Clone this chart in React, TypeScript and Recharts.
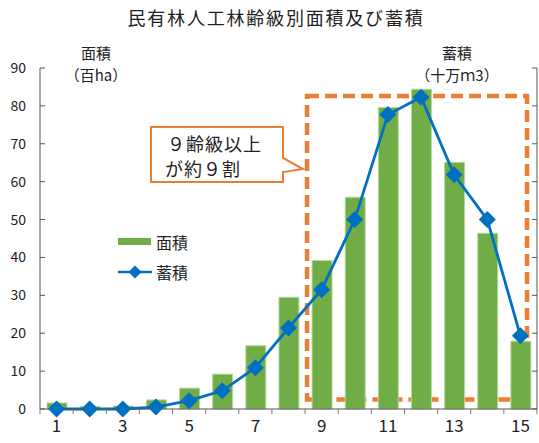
import {
  Bar,
  ComposedChart,
  Legend,
  Line,
  ReferenceArea,
  XAxis,
  YAxis,
} from 'recharts';

// 齢級
const ageClasses = [1, 2, 3, 4, 5, 6, 7, 8, 9, 10, 11, 12, 13, 14, 15];
// 面積 (百ha)
const areaValues = [1.6, 0.7, 0.8, 2.4, 5.5, 9.2, 16.7, 29.5, 39.2, 55.9, 79.6, 84.4, 65.1, 46.4, 17.9];
// 蓄積 (十万m3)
const stockValues = [0, 0, 0, 0.5, 2.2, 4.8, 10.9, 21.4, 31.5, 50.0, 77.7, 82.3, 61.8, 50.0, 19.3];
const yTicks = [0, 10, 20, 30, 40, 50, 60, 70, 80, 90];

const data = ageClasses.map((age, i) => ({
  age,
  area: areaValues[i],
  stock: stockValues[i],
}));

const GREEN = '#70AD47';
const BLUE = '#0070C0';
const ORANGE = '#ED7D31';
const FONT = '"Noto Sans CJK JP", "Noto Sans", sans-serif';

const W = 539;
const H = 443;

function Diamond({ cx, cy }: { cx?: number; cy?: number }) {
  if (cx == null || cy == null) return null;
  const r = 8.5;
  return (
    <polygon
      points={`${cx},${cy - r} ${cx + r},${cy} ${cx},${cy + r} ${cx - r},${cy}`}
      fill={BLUE}
    />
  );
}

function AgeTick(props: any) {
  const { x, y, payload, index, width, visibleTicksCount } = props;
  const step = (width || 497) / (visibleTicksCount || ageClasses.length);
  const left = x - step / 2;
  const isLast = index === ageClasses.length - 1;
  return (
    <g>
      <line x1={left} x2={left} y1={y} y2={y + 5} stroke='#777' />
      {isLast && (
        <line x1={x + step / 2} x2={x + step / 2} y1={y} y2={y + 5} stroke='#777' />
      )}
      {payload.value % 2 === 1 && (
        <text x={x} y={y + 23} textAnchor='middle' fontSize={17} fill='#222'>
          {payload.value}
        </text>
      )}
    </g>
  );
}

function LegendBox() {
  return (
    <div style={{ fontFamily: FONT, fontSize: 16, color: '#222' }}>
      <div style={{ display: 'flex', alignItems: 'center', height: 24 }}>
        <svg width={34} height={10}>
          <rect x={0} y={1} width={33} height={7} fill={GREEN} />
        </svg>
        <span style={{ marginLeft: 4 }}>面積</span>
      </div>
      <div style={{ display: 'flex', alignItems: 'center', height: 24, marginTop: 6 }}>
        <svg width={34} height={14}>
          <line x1={0} x2={34} y1={7} y2={7} stroke={BLUE} strokeWidth={2.5} />
          <polygon points='17,0.5 23.5,7 17,13.5 10.5,7' fill={BLUE} />
        </svg>
        <span style={{ marginLeft: 4 }}>蓄積</span>
      </div>
    </div>
  );
}

function DashedBox(props: any) {
  const { x, y, width, height } = props;
  return (
    <rect
      x={x + 2}
      y={y}
      width={width - 12}
      height={height}
      fill='none'
      stroke={ORANGE}
      strokeWidth={4.5}
      strokeDasharray='12 6'
    />
  );
}

export default function App() {
  return (
    <div
      style={{
        position: 'absolute',
        left: 0,
        top: 0,
        width: W,
        height: H,
        background: '#fff',
        fontFamily: FONT,
      }}
    >
      <ComposedChart
        width={W}
        height={H}
        data={data}
        margin={{ top: 68, right: 0, bottom: 0, left: 0 }}
        style={{ fontFamily: FONT }}
      >
        <XAxis
          dataKey='age'
          interval={0}
          tickLine={false}
          tickSize={0}
          tickMargin={0}
          height={34}
          stroke='#555'
          tick={<AgeTick />}
        />
        <YAxis
          yAxisId='left'
          domain={[0, 90]}
          ticks={yTicks}
          width={40}
          tickSize={-5}
          tickMargin={19}
          stroke='#555'
          tick={{ fill: '#222', fontSize: 14 }}
        />
        <YAxis
          yAxisId='right'
          orientation='right'
          domain={[0, 90]}
          ticks={yTicks}
          width={2}
          tickSize={-5}
          stroke='#555'
          tickFormatter={() => ''}
        />
        <Bar
          yAxisId='left'
          dataKey='area'
          name='面積'
          fill={GREEN}
          stroke='#B7DA9E'
          strokeWidth={1}
          barSize={20}
          isAnimationActive={false}
        />
        <ReferenceArea
          yAxisId='left'
          x1={9}
          x2={15}
          y1={2.5}
          y2={82.6}
          shape={<DashedBox />}
        />
        <Line
          yAxisId='right'
          dataKey='stock'
          name='蓄積'
          type='linear'
          stroke={BLUE}
          strokeWidth={2.8}
          dot={<Diamond />}
          isAnimationActive={false}
        />
        <Legend
          layout='vertical'
          align='center'
          verticalAlign='middle'
          content={<LegendBox />}
          wrapperStyle={{ left: 118, top: 230, width: 110 }}
        />
      </ComposedChart>

      <svg
        width={W}
        height={H}
        style={{ position: 'absolute', left: 0, top: 0, pointerEvents: 'none' }}
        fontFamily={FONT}
      >
        <text x={276} y={17} textAnchor='middle' dominantBaseline='central' fontSize={18} letterSpacing={1.8} fill='#222'>
          民有林人工林齢級別面積及び蓄積
        </text>
        <text x={96} y={52} textAnchor='middle' dominantBaseline='central' fontSize={15} fill='#222'>
          面積
        </text>
        <text x={96} y={74} textAnchor='middle' dominantBaseline='central' fontSize={15} fill='#222'>
          （百ha）
        </text>
        <text x={457} y={52} textAnchor='middle' dominantBaseline='central' fontSize={15} fill='#222'>
          蓄積
        </text>
        <text x={457} y={74} textAnchor='middle' dominantBaseline='central' fontSize={15} fill='#222'>
          （十万ｍ3）
        </text>

        <path
          d='M151,127 H283 V158 L303,169 L283,172 V182 H151 Z'
          fill='#fff'
          stroke={ORANGE}
          strokeWidth={2}
        />
        <text x={167} y={143} dominantBaseline='central' fontSize={18} letterSpacing={1} fill='#222'>
          ９齢級以上
        </text>
        <text x={165} y={168} dominantBaseline='central' fontSize={18} letterSpacing={1} fill='#222'>
          が約９割
        </text>
      </svg>
    </div>
  );
}
